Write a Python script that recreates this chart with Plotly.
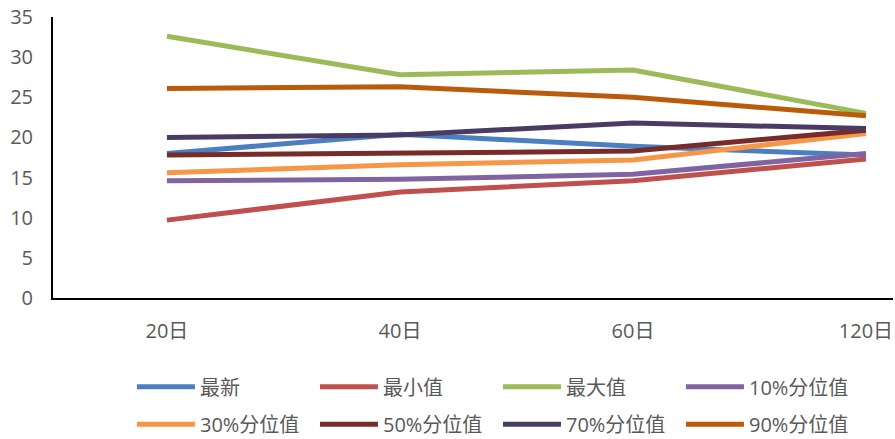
import plotly.graph_objects as go

# Holding periods on the category axis
periods = ["20日", "40日", "60日", "120日"]

# Valuation series for each holding period
latest = [18.0, 20.4, 18.9, 17.8]
min_vals = [9.7, 13.2, 14.6, 17.3]
max_vals = [32.6, 27.8, 28.4, 23.0]
pct10 = [14.6, 14.8, 15.4, 18.0]
pct30 = [15.6, 16.6, 17.2, 20.5]
pct50 = [17.8, 18.1, 18.3, 20.9]
pct70 = [20.0, 20.3, 21.8, 21.1]
pct90 = [26.1, 26.3, 25.0, 22.7]

y_ticks = [0, 5, 10, 15, 20, 25, 30, 35]

series = [
    ("最新", latest, "#4A80C2", "legend"),
    ("最小值", min_vals, "#C0504D", "legend"),
    ("最大值", max_vals, "#9BBB59", "legend"),
    ("10%分位值", pct10, "#8064A2", "legend"),
    ("30%分位值", pct30, "#F79646", "legend2"),
    ("50%分位值", pct50, "#772C2A", "legend2"),
    ("70%分位值", pct70, "#4A3B64", "legend2"),
    ("90%分位值", pct90, "#BC5A0C", "legend2"),
]

FONT = "Open Sans, Noto Sans CJK SC, sans-serif"
GREY = "#595959"

fig = go.Figure()
for name, vals, color, leg in series:
    fig.add_trace(go.Scatter(
        x=periods, y=vals, name=name, mode="lines",
        line=dict(color=color, width=5),
        legend=leg,
    ))

legend_common = dict(
    orientation="h",
    xanchor="left",
    yanchor="middle",
    font=dict(family=FONT, size=20, color=GREY),
    itemwidth=58,
    entrywidth=110,
    bgcolor="rgba(0,0,0,0)",
    borderwidth=0,
    tracegroupgap=0,
)

fig.update_layout(
    width=895,
    height=439,
    margin=dict(l=53, r=2, t=17, b=141, autoexpand=False),
    paper_bgcolor="white",
    plot_bgcolor="white",
    font=dict(family=FONT, size=20, color=GREY),
    showlegend=True,
    legend=dict(x=0.094, y=-0.316, **legend_common),
    legend2=dict(x=0.094, y=-0.449, **legend_common),
    xaxis=dict(
        type="category",
        range=[-0.489, 3.116],
        showline=True,
        linecolor="black",
        linewidth=2,
        showgrid=False,
        zeroline=False,
        ticks="",
        ticklabelstandoff=14,
        tickfont=dict(family=FONT, size=20, color=GREY),
    ),
    yaxis=dict(
        range=[0, 35],
        tickvals=y_ticks,
        showline=True,
        linecolor="black",
        linewidth=2,
        showgrid=False,
        zeroline=False,
        ticks="",
        ticklabelstandoff=14,
        tickfont=dict(family=FONT, size=20, color=GREY),
    ),
)

fig.write_html("out.html")
